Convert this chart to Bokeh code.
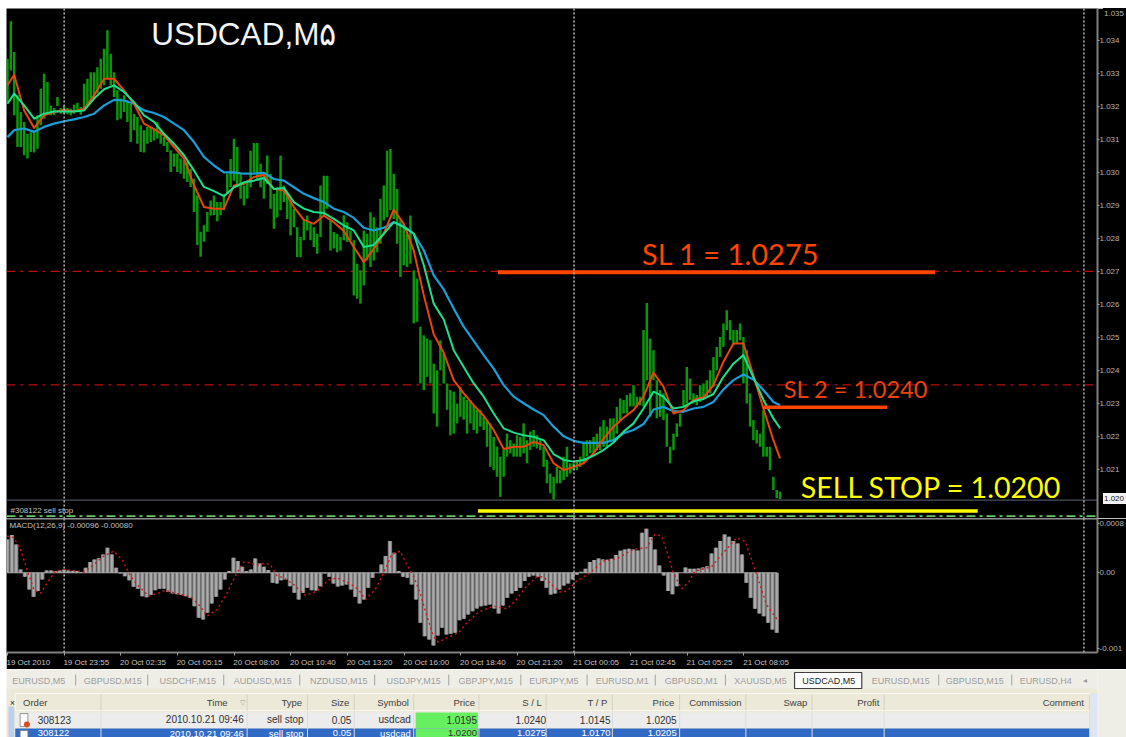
from bokeh.plotting import figure
from bokeh.layouts import column
from bokeh.models import Range1d, FixedTicker, Span, Div
from bokeh.core.properties import value
from bokeh.embed import file_html
from bokeh.resources import INLINE

# ---------- DATA (prices as pips above 1.0200; MACD in units of 1e-5; x in M5 bars) ----------
high_pips = [139.5,150.8,141.5,128.4,123.3,120.3,116.7,117.2,117.7,122.3,130.4,134.9,132.4,125.3,124.5,127.9,124.5,125.3,124.5,124.3,
125.5,126.1,124.8,131.9,133.4,135.4,135.4,136.9,139.5,142.5,148.1,141,135.4,129.9,127.4,128.4,126.8,125.8,122.8,121.8,
119.3,117.8,118.8,118.8,118.3,120.3,117.8,115.7,114.2,111.7,110.7,110.7,109.2,108.7,108.2,106.1,103.1,98,87,89,93,
96.5,98,96,96,98.5,104.6,109.1,115.2,112.7,104.6,101,102.5,111.6,113.9,113.9,107.6,104.6,110.1,104.6,98.5,100.5,110.1,101,98.5,96.5,94,88.4,85.4,90.9,91.9,
89.9,88.4,86.4,101,104,104,90.4,86.9,86.4,85.4,92,89.9,87.4,84.4,77.3,75.3,87.4,86.4,92.9,91.4,88.4,97,101,111.6,112.1,104.6,100,
90.4,88.4,86.4,91.9,75.3,72.8,58.2,55.6,54.6,54.1,47,45,54.1,50.1,41,39,38.5,34.9,40,37,36,36,34.4,33,33,30.9,29.9,28.9,24.8,21.8,18.8,20.8,25.8,23.8,22.8,25.3,24.8,28.9,23.8,26.4,26.9,25.3,23.8,21.8,17.8,13.7,12.7,15.7,14.7,18.8,21.8,16.8,16.8,17.8,18.8,23.3,23.8,
23.8,24.8,25.8,27.9,29.9,27.9,30.4,30.4,33.9,36.5,36,37.5,38,40.5,37,37,57.2,65.4,54.6,51.1,42,39,38,31.9,21.8,25.8,28.9,31.9,39,46,42.5,38,37.5,40.5,41,42,45,49,52.1,55.1,59.2,63.2,60.2,57.2,57.2,59.2,55.1,51.1,38,29.9,26.9,25.8,32.9,21.8,21.8,12.7,8.7,8.2]
low_pips = [126.3,135.9,122.3,112.7,112.7,110.2,109.2,111.2,111,112.2,119.3,121.3,123.3,122.3,122.3,125.1,122.8,122.8,122.6,122.3,
122.8,123.3,122.5,123.8,125.3,126.3,127.4,128.9,130.4,131.4,133.4,131.4,127.9,120.8,121.3,123.3,120.3,114.2,117.8,113.7,
111.2,111,113.7,114.2,114.7,115.2,113.7,113,111.2,105.1,106.7,105.1,104.6,103.1,102.1,100.6,93,83,79.4,84,87,
91.9,92,90.2,92,93.5,98.5,100.5,102.5,100.5,97,95,97,100.5,105,102.5,100.5,97,101.5,94,87.9,91.4,93.5,96,90.9,85.9,88.4,79.3,79.3,84.4,87.4,
84.4,82.4,80.3,85.4,92,94,81.3,81.9,80.8,81.3,84.4,83.9,84.4,67.7,66.7,65.2,70.7,78.3,76.3,78.3,80.8,83.4,90.4,91.4,93.5,90.9,83.4,
73.3,76.8,76.3,77.3,59.2,59.7,41,39,43,41,31.9,27.9,45,41,33,25.3,25.8,28.9,30.9,30,25.8,28.9,26.9,25.8,27.9,26.9,21.8,15.7,14.7,12.7,6.6,12.7,18.8,19.8,18.8,18.8,18.8,19.8,16.8,20.8,21.8,21.3,20.8,15.7,10.7,7.7,5.8,10.7,10.7,11.7,12.7,13.7,14.7,14.7,15.7,16.8,18.8,
19.8,19.8,20.8,20.8,21.8,21.8,23.8,23.8,25.8,29.9,31.9,31.9,34,34,34,34.4,34,42,30.9,42,30.4,30.9,29.9,21.8,16.8,20.8,24.8,27.9,34,34.9,36,34.9,34.4,35.4,36.5,37,38,40,45,49,52.1,57.2,54.1,52.6,53.1,54.1,41,34.9,27.9,23.8,22.8,21.8,18.8,18.8,14.7,8.7,6.2,5.9]

ma_sample = [0,2]+list(range(5,231,3))+[232]
ma_fast = [131.4,134.6,123.8,118.5,122.3,123.3,124,123.5,124.3,128.4,133.4,133.4,129.9,125.8,119.8,118.1,116.2,112.7,109.2,101.1,94.5,
94,94,101,101.5,103.6,104.3,100,99.5,94.5,90.6,89.4,91.9,89.9,87.2,82.4,77.8,81.8,86.4,93.7,89.4,81.3,
67.8,55.9,50.3,42,38,34.4,31.2,26.9,21.1,21.8,21.8,23.3,22.3,16.8,14.7,15.7,16.8,19.8,
24.3,27.9,30.6,32.9,37,44.3,40,31.9,32.9,36,36.8,40.5,47.6,53.1,53.1,43.5,33.4,23.8,18.3]
ma_mid = [125.8,128.9,125.3,121.3,122.8,123.5,123.5,123.5,123.8,127.4,130.2,131.4,129.4,126.3,122.3,120.3,116.7,113.7,110.2,105.6,100.6,
99.3,97.8,100.5,102,102.5,103.3,100,100.3,96,94,93,92.7,90.9,88.9,87.4,82.4,83,86.4,89.9,88.4,86.4,
76.9,65.2,60.4,51.1,46,41,37,31.9,27.4,26.1,25.3,24.8,23.8,19.6,17.8,17.3,17.8,19.1,
20.8,23.1,26.4,28.9,33.4,38.5,37,33.4,33.9,35.6,36.3,37.8,43,47,49.6,42.8,36,30.4,27.4]
ma_slow = [115.7,117.8,118.3,117.3,118.8,119.8,120.5,121.1,121.8,122.8,125.3,127,126.8,125.8,123.8,123,121.8,119.8,117.8,114.2,109.7,
107.1,105,105,104.6,104.6,104.9,103,102.5,100.5,98.5,97.2,96,94,93,91.2,88.2,87.4,88.2,89.9,88.7,86.4,
81.4,73.8,69.5,63.7,58.2,53.9,49.6,45.5,40.5,37,35,33.1,31.4,27.9,25,23.6,23,23,
23,23.8,25.9,26.9,28.7,33.1,33.9,32.6,32.4,33.4,33.9,35.4,39.2,42,43.7,42.2,39,35.4,34.4]

macd_hist = [53.7,60.7,45.6,5.4,-6.4,-26.9,-38.7,-29.5,-10.7,3.8,3.8,2.7,3.8,5.4,3.8,3.2,2.7,1.1,8.1,17.2,21.5,23.6,29.5,40.3,29.5,8.1,-1.1,-5.4,-11.8,-22.6,-25.8,-37.6,-39.2,-35.4,-27.9,-25.8,-25.8,-31.1,-33.3,-34.4,-35.4,-37.6,-40.3,-53.7,-72.5,-75.2,-64.4,-49.4,-38.7,-26.9,-10.7,2.7,24.2,18.8,9.7,2.7,5.4,23.1,15,9.7,4.3,-16.1,-17.2,-11.8,-10.7,-21.5,-32.2,-43,-32.2,-24.2,-27.9,-28.5,-21.5,-1.1,-6.4,-17.2,-22,-20.4,-18.8,-26.9,-38.7,-49.4,-43,-24.2,-8.1,0,13.4,26.9,51,32.2,2.7,-6.4,-8.1,-18.8,-43,
-80.6,-102,-107.4,-117.1,-101,-88.6,-99.3,-98.3,-96.7,-76.3,-74.1,-67.1,-61.8,-57.5,-53.7,-52.6,-51,-57.5,-65.5,-52.6,-40.3,-33.3,-29.5,-24.2,-13.4,-6.4,-4.3,-6.4,-13.4,-24.2,-34.9,-33.3,-26.9,-20.4,-17.2,-10.7,-3.2,1.6,6.4,17.2,20.4,23.1,21.5,20.9,22.6,28.5,35.4,37.6,38.7,37.6,36,64.4,70.9,57.5,37.6,11.8,-4.3,-29.5,-34.4,-21.5,0,8.6,6.4,6.4,7,8.6,10.7,31.1,40.3,51,61.8,58,51,47.3,29.5,-16.1,-40.3,-58,-65.5,-69.8,-80.6,-91.3,-96.7]

signal_bar = [-0.2,3.6,7.3,11,14.8,18.5,22.3,27,31.6,37.3,42.9,48.5,54.1,59.7,64.4,68.1,71.9,79.4,85,88.7,93.4,102.8,108.4,112.1,117.8,123.4,129,132.7,136.5,140.2,144,147.7,151.4,155.2,160.8,167.4,173.9,180.5,185.2,192.6,197.3,201.1,206.7,211.4,216,220.7,
224.4,228.2,231.9,235.7,239.4,242.2,246.9,253.5,258.1,264.7,273.1,280.6,285.3,290.9,297.5,301.2,306.8,310.6,314.3,319.9,327.4,334.9,342.4,351.7,359.2,363.9,367.7,370.5,374.2,378.9,382.6,386.4,395.7,402.3,409.8,414.5,418.2,422,426.6,433.2]
signal_val = [59.1,56.4,37.6,5.4,-26.9,-33.3,-16.1,2.7,5.4,3.8,1.1,13.4,26.9,34.9,21.5,0,-16.1,-37.6,-32.2,-27.9,-32.2,-38.7,-53.7,-69.8,-59.1,-32.2,0,17.2,16.1,11.8,15,13.4,-4.3,-8.1,-18.8,-36.5,-29.5,-11.8,-8.1,-17.7,-26.9,-43,-26.9,0,29.5,34.9,
13.4,-5.4,-32.2,-69.8,-102,-111.7,-104.7,-96.7,-80.6,-63.4,-53.7,-58,-45.6,-24.2,-6.4,-6.4,-21.5,-31.1,-29.5,-13.4,0,18.8,22.6,37.6,40.3,61.8,59.1,34.9,0,-25.8,-16.1,2.7,9.7,32.2,56.4,51,21.5,-10.7,-51,-77.9]

price_ticks = [1.0345,1.0335,1.0325,1.0315,1.0305,1.0295,1.0285,1.0275,1.0265,1.0255,1.0245,1.0235,1.0225,1.0215]
price_tick_labels = ["1.034","1.033","1.032","1.031","1.030","1.029","1.028","1.027","1.026","1.025","1.024","1.023","1.022","1.021"]
macd_ticks = [79,0,-122]
macd_tick_labels = ["0.0008","0.00","-0.001"]
date_bars = [0,32,64,96,128,160,192,224,256,288,320,352,384,416]
date_labels = ["19 Oct 2010","19 Oct 23:55","20 Oct 02:35","20 Oct 05:15","20 Oct 08:00","20 Oct 10:40","20 Oct 13:20","20 Oct 16:00","20 Oct 18:40","20 Oct 21:20","21 Oct 00:05","21 Oct 02:45","21 Oct 05:25","21 Oct 08:05"]
separator_bars = [32,320,608]
stop_levels = [75,40.6]
drawn_lines = [(277,524,74.7,"#ff4500",4),(426.6,497,33.8,"#ff4500",3.5),(265.8,548,2.3,"#ffff00",3.5)]

tab_names = ["EURUSD,M5","GBPUSD,M15","USDCHF,M15","AUDUSD,M15","NZDUSD,M15","USDJPY,M15","GBPJPY,M15","EURJPY,M5","EURUSD,M1","GBPUSD,M1","XAUUSD,M5","USDCAD,M5","EURUSD,M15","GBPUSD,M15","EURUSD,H4"]
col_heads = ["Time","Type","Size","Symbol","Price","S / L","T / P","Price","Commission","Swap","Profit","Comment"]
row1 = ["2010.10.21 09:46","sell stop","0.05","usdcad","1.0195","1.0240","1.0145","1.0205"]
row2 = ["2010.10.21 09:46","sell stop","0.05","usdcad","1.0200","1.0275","1.0170","1.0205"]

# ---------- layout constants ----------
PXB = 1.772           # screen pixels per M5 bar
K_STEP = 3.333/PXB    # bars between read-off samples of the price series
H_STEP = 4.35/PXB     # bars between histogram columns
LEFT = 6
TOP = 8
AXIS_X = 1098
WIDTH = 1126-LEFT
def bx(px): return (px-7)/PXB
def pr(pips): return 1.02+pips/10000
def pp(v): return [pr(a) for a in v]
def mc(v): return [a*1e-5 for a in v]

def base(h, yr, mb):
    p = figure(width=WIDTH, height=h, x_range=Range1d(bx(LEFT),bx(AXIS_X)), y_range=yr, output_backend="svg",
               toolbar_location=None, y_axis_location="right", background_fill_color="black",
               border_fill_color="black", min_border_left=0, min_border_right=20, min_border_top=0, min_border_bottom=mb)
    p.grid.visible = False
    p.outline_line_color = None
    ya = p.yaxis[0]
    ya.axis_line_color = "#808080"; ya.axis_line_width = 2
    ya.major_tick_line_color = "#a0a0a0"; ya.major_tick_out = 2; ya.major_tick_in = 0
    ya.minor_tick_line_color = None
    ya.major_label_text_color = "#b4b4b4"; ya.major_label_text_font_size = "8px"
    ya.major_label_text_font = "Liberation Sans"; ya.major_label_standoff = 0
    for b in separator_bars:
        p.add_layout(Span(location=b, dimension="height", line_color="#b8b8b8", line_dash="2 2", line_width=1.5))
    return p

# ---------- price panel ----------
p = base(510, Range1d(pr(0.05),pr(154.7)), 0)
p.xaxis.visible = False
p.yaxis[0].ticker = FixedTicker(ticks=price_ticks)
p.yaxis[0].major_label_overrides = dict(zip(price_ticks, price_tick_labels))
for lv in stop_levels:
    p.add_layout(Span(location=pr(lv), dimension="width", line_color="#b80f0f", line_dash="9 5 3 5", line_width=1.3, level="underlay"))
p.add_layout(Span(location=pr(5.6), dimension="width", line_color="#4a525c", line_width=1.3, level="underlay"))
p.add_layout(Span(location=pr(0.76), dimension="width", line_color="#66c866", line_dash="9 4 3 4", line_width=1.6))
bars = [i*K_STEP for i in range(len(high_pips))]
p.segment(bars, pp(low_pips), bars, pp(high_pips), line_color="#0b960b", line_width=2.5)
ma_x = [k*K_STEP for k in ma_sample]
p.line(ma_x, pp(ma_slow), line_color="#1a9ed8", line_width=2.2, line_join="round")
p.line(ma_x, pp(ma_fast), line_color="#e8450f", line_width=2, line_join="round")
p.line(ma_x, pp(ma_mid), line_color="#1de08c", line_width=2, line_join="round")
for x0,x1,y,c,w in drawn_lines:
    p.line([x0,x1],[pr(y),pr(y)], line_color=c, line_width=w)
def note(fig, px, y, txt, col, size, font="Lato", style="normal"):
    fig.text([bx(px)],[y],text=[txt],text_color=col,text_font_size=size,text_font=value(font),
             text_baseline="middle",text_align="left",text_font_style=style)
note(p,151,pr(147.1),"USDCAD,M۵","#f4f4f4","31.5px","Liberation Sans")
note(p,642,pr(80.5),"SL 1 = 1.0275","#ff4500","29px")
note(p,784,pr(39.2),"SL 2 = 1.0240","#e8420f","23.6px")
note(p,801,pr(9.5),"SELL STOP = 1.0200","#ffff00","28.6px")
note(p,10,pr(2.6),"#308122 sell stop","#c0c0c0","8px","Liberation Sans")

# ---------- MACD panel ----------
m = base(151, Range1d(-128.3e-5,87.4e-5), 15)
m.yaxis[0].ticker = FixedTicker(ticks=mc(macd_ticks))
m.yaxis[0].major_label_overrides = dict(zip(mc(macd_ticks), macd_tick_labels))
m.add_layout(Span(location=87.4e-5, dimension="width", line_color="#9a9a9a", line_width=2))
hx = [j*H_STEP for j in range(len(macd_hist))]
m.vbar(hx, width=H_STEP, top=mc(macd_hist), bottom=0, fill_color="#7c7c7c", line_color=None)
m.vbar(hx, width=H_STEP*0.5, top=mc(macd_hist), bottom=0, fill_color="#ababab", line_color=None)
m.line([hx[0],hx[-1]],[0,0],line_color="#a8a8a8",line_width=1)
m.line([b*1.005 for b in signal_bar], mc(signal_val), line_color="#d01818", line_dash="2 3", line_width=1.4)
note(m,9,76e-5,"MACD(12,26,9) -0.00096 -0.00080","#c0c0c0","8px","Liberation Sans")
# date texts start at their ticks: major ticks (invisible) centre the texts half a text width later,
# the visible tick marks are the axis's minor ticks at the dated bars
text_pos = [b+(11 if i==0 else 12.5) for i,b in enumerate(date_bars)]
xa = m.xaxis[0]
xa.ticker = FixedTicker(ticks=text_pos, minor_ticks=date_bars)
xa.major_label_overrides = dict(zip(text_pos,date_labels))
xa.major_label_standoff = 2
xa.major_label_text_font_size = "8px"; xa.major_label_text_color = "#c4c4c4"; xa.major_label_text_font = "Liberation Sans"
xa.axis_line_color = "#808080"; xa.axis_line_width = 2
xa.major_tick_line_color = None; xa.major_tick_out = 0; xa.major_tick_in = 0
xa.minor_tick_line_color = "#a0a0a0"; xa.minor_tick_out = 3; xa.minor_tick_in = 0

# ---------- terminal strip ----------
s = figure(width=WIDTH, height=68, x_range=Range1d(LEFT,1126), y_range=Range1d(737,669), output_backend="svg",
           toolbar_location=None, background_fill_color="#efeee6", border_fill_color="#efeee6",
           min_border_left=0,min_border_right=0,min_border_top=0,min_border_bottom=0)
s.axis.visible = False; s.grid.visible = False; s.outline_line_color = None
s.quad(left=[LEFT],right=[1126],top=[688],bottom=[737],fill_color="#ece9d8",line_color=None)
s.quad(left=[15],right=[1118],top=[693],bottom=[710],fill_color="#ece9d8",line_color="#f8f7f0")
s.quad(left=[15],right=[1118],top=[712],bottom=[727.5],fill_color="#ececec",line_color=None)
s.quad(left=[15],right=[1118],top=[728],bottom=[737],fill_color="#316ac5",line_color=None)
s.quad(left=[8],right=[14],top=[706],bottom=[737],fill_color="#bcd0ee",line_color=None)
s.quad(left=[426,426],right=[490,490],top=[712,728],bottom=[727.5,737],fill_color="#66f060",line_color=None)
s.quad(left=[815],right=[884],top=[672],bottom=[688],fill_color="white",line_color="#404040",line_width=1.2)
tab_x = [39,115,192,269,347,424,498,568,638,709,780,850,924,1000,1073]
tab_sep = [77,151,229,307,384,460,534,602,672,744,963,1038]
s.segment(tab_sep,[674]*len(tab_sep),tab_sep,[685]*len(tab_sep),line_color="#a0a0a0",line_width=1)
tab_cols = ["#222222" if i==11 else "#9c9c9c" for i in range(len(tab_names))]
s.text(tab_x,[680]*len(tab_x),text=tab_names,text_color=tab_cols,text_font_size="9px",text_font=value("Liberation Sans"),
       text_align="center",text_baseline="middle")
s.text([1113],[680],text=["◂"],text_color="#9c9c9c",text_font_size="8px",text_align="center",text_baseline="middle")
col_sep = [103,253,315,363,424,491,560,628,697,765,833,907,1118]
s.segment(col_sep,[694]*len(col_sep),col_sep,[710]*len(col_sep),line_color="#d6d2c0",line_width=1)
s.segment(col_sep,[712]*len(col_sep),col_sep,[737]*len(col_sep),line_color="#dcdcdc",line_width=1)
head_x = [233,309.5,358,419,487,555.5,623,691.5,760.5,828,902,1112]
s.text(head_x,[702]*len(head_x),text=col_heads,text_color="#404040",text_font_size="9.5px",text_font=value("Liberation Sans"),
       text_align="right",text_baseline="middle")
s.text([23],[702],text=["Order"],text_color="#404040",text_font_size="9.5px",text_font=value("Liberation Sans"),text_baseline="middle")
s.text([248],[702],text=["▽"],text_color="#a0a0a0",text_font_size="7px",text_align="center",text_baseline="middle")
s.text([12],[702],text=["×"],text_color="#303030",text_font_size="9px",text_align="center",text_baseline="middle")
cell_x = [249.5,311,360,421,489,560,626,694]
s.text([38],[719],text=["308123"],text_color="#303030",text_font_size="10px",text_font=value("Liberation Sans"),text_baseline="middle")
s.text(cell_x,[719]*8,text=row1,text_color="#303030",text_font_size="10px",text_font=value("Liberation Sans"),text_align="right",text_baseline="middle")
s.text([38],[732.5],text=["308122"],text_color="white",text_font_size="9.5px",text_font=value("Liberation Sans"),text_baseline="middle")
s.text(cell_x,[732.5]*8,text=row2,text_color=["white"]*4+["#303030"]+["white"]*3,text_font_size="9.5px",text_font=value("Liberation Sans"),text_align="right",text_baseline="middle")
s.quad(left=[20,20],right=[28,28],top=[713,730],bottom=[726,737],fill_color="#fafafa",line_color="#808080",line_width=0.8)
s.scatter([27],[724],size=6,fill_color="#d84a20",line_color=None)
s.quad(left=[1119],right=[1126],top=[693],bottom=[737],fill_color="#dce6f6",line_color=None)

# ---------- small boxes on the price scale: the bid price and the scale's top entry ----------
def scale_box(txt, page_top, h, bg, fg):
    return Div(text=txt, width=1126-1103, height=h, margin=0,
               styles={"position":"absolute","left":f"{1103-LEFT}px","top":f"{page_top-TOP}px",
                       "background-color":bg,"color":fg,"font-size":"8px","line-height":f"{h}px",
                       "font-family":"Liberation Sans","padding-left":"1px"})
bid_box = scale_box("1.020", 493, 11, "#f2f2f2", "#202020")
top_box = scale_box("1.035", 8, 11, "black", "#b4b4b4")

layout = column(p,m,s,bid_box,top_box,spacing=0,margin=(TOP,0,0,LEFT))
open("out.html","w").write(file_html(layout, INLINE))
